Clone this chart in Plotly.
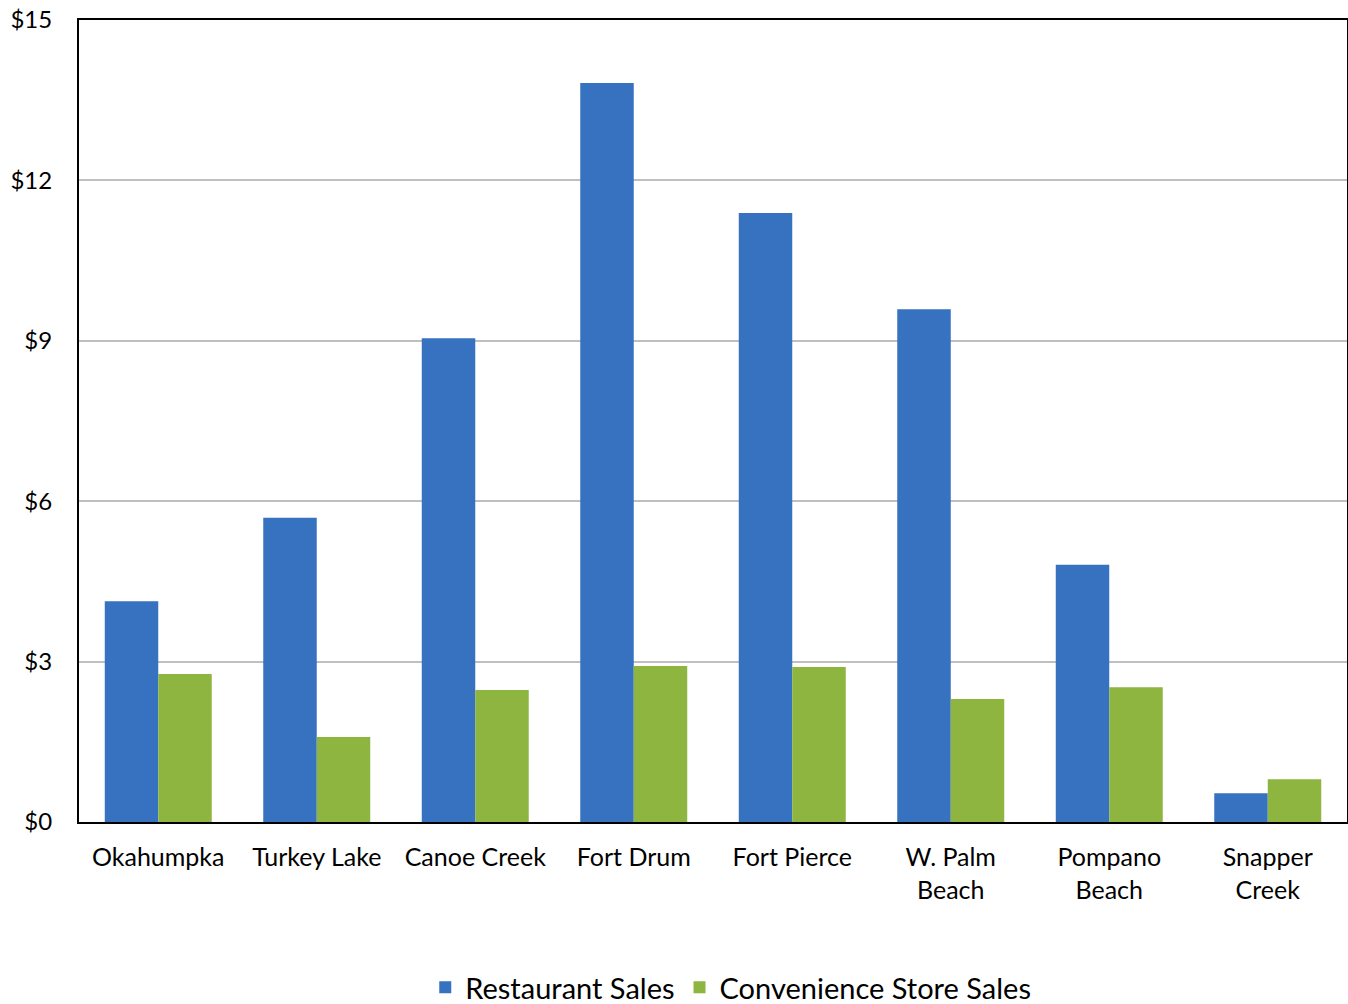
import plotly.graph_objects as go

categories = ["Okahumpka", "Turkey Lake", "Canoe Creek", "Fort Drum", "Fort Pierce",
              "W. Palm<br>Beach", "Pompano<br>Beach", "Snapper<br>Creek"]
restaurant_sales = [4.13, 5.69, 9.05, 13.82, 11.39, 9.59, 4.81, 0.54]
convenience_sales = [2.77, 1.59, 2.47, 2.92, 2.90, 2.30, 2.52, 0.80]
y_ticks = [0, 3, 6, 9, 12, 15]
y_tick_labels = ["$0", "$3", "$6", "$9", "$12", "$15"]

FONT = "Lato, Calibri, Carlito, sans-serif"

fig = go.Figure()
fig.add_trace(go.Bar(x=categories, y=restaurant_sales, name="Restaurant Sales",
                     marker=dict(color="#3672bf", line=dict(width=0))))
fig.add_trace(go.Bar(x=categories, y=convenience_sales, name="Convenience Store Sales",
                     marker=dict(color="#8db53f", line=dict(width=0))))

fig.update_layout(
    width=1348, height=1004,
    margin=dict(l=79, r=1, t=20, b=182, autoexpand=False),
    paper_bgcolor="white", plot_bgcolor="white",
    barmode="group", bargap=0.325, bargroupgap=0,
    font=dict(family=FONT, size=24, color="#000000"),
    showlegend=True,
    legend=dict(orientation="h", x=0.514, xanchor="center", y=-0.238, yanchor="bottom",
                font=dict(family=FONT, size=29, color="#000000"),
                itemsizing="constant", traceorder="normal"),
)
fig.update_xaxes(showline=True, linecolor="black", linewidth=2, mirror=True,
                 showgrid=False, ticks="", ticklabelstandoff=12,
                 tickfont=dict(family=FONT, size=25))
fig.update_yaxes(range=[0, 15], tickvals=y_ticks, ticktext=y_tick_labels,
                 showline=True, linecolor="black", linewidth=2, mirror=True,
                 showgrid=True, gridcolor="#bfbfbf", gridwidth=1.5,
                 zeroline=False, ticks="", ticklabelstandoff=20,
                 tickfont=dict(family=FONT, size=24))

fig.write_html("out.html")
